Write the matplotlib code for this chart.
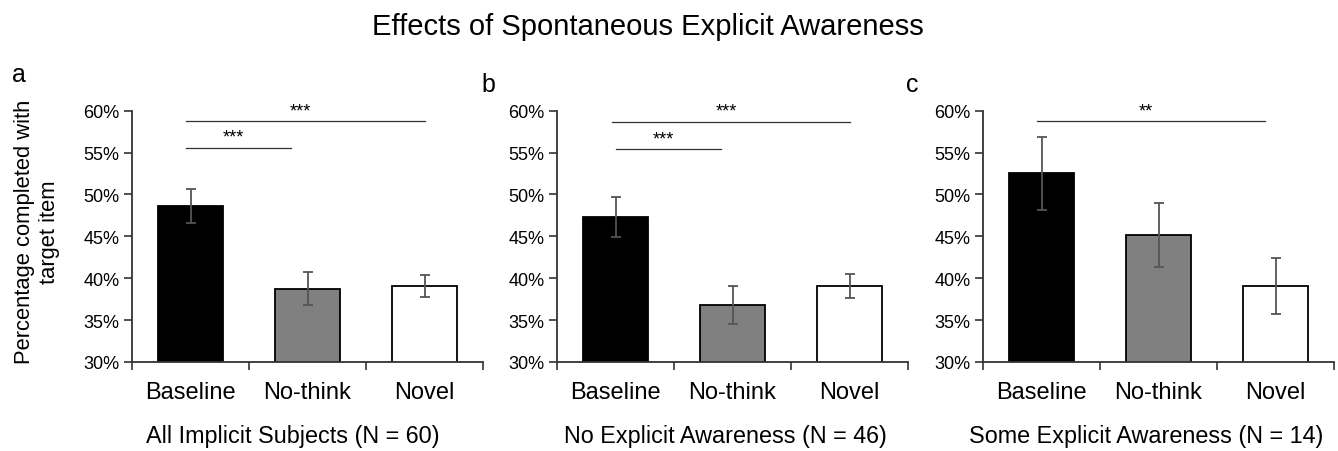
import matplotlib
matplotlib.use("Agg")
import matplotlib.pyplot as plt
from matplotlib.ticker import FuncFormatter, FixedLocator

plt.rcParams['font.family'] = ['Liberation Sans', 'DejaVu Sans']

categories = ["Baseline", "No-think", "Novel"]
bar_colors = ["#000000", "#808080", "#ffffff"]

panel_letters = ["a", "b", "c"]
panel_titles = ["All Implicit Subjects (N = 60)",
                "No Explicit Awareness (N = 46)",
                "Some Explicit Awareness (N = 14)"]

means_a = [48.6, 38.75, 39.1]
errs_a = [2.0, 1.95, 1.33]
means_b = [47.3, 36.8, 39.1]
errs_b = [2.35, 2.3, 1.43]
means_c = [52.55, 45.15, 39.1]
errs_c = [4.37, 3.8, 3.35]

# significance brackets: (x_start, x_end, y, label) in category-index units
sig_a = [(-0.04, 0.86, 55.6, "***"), (-0.04, 2.0, 58.8, "***")]
sig_b = [(0.0, 0.90, 55.4, "***"), (-0.03, 2.0, 58.7, "***")]
sig_c = [(-0.04, 1.91, 58.8, "**")]

means = [means_a, means_b, means_c]
errs = [errs_a, errs_b, errs_c]
sigs = [sig_a, sig_b, sig_c]

W, H = 1338, 452
fig = plt.figure(figsize=(W / 100, H / 100), dpi=100)

ax_lefts = [132, 557, 983]
ax_w = 351
ax_top, ax_bot = 111.7, 363
sub_x = [293, 725, 1146]
letter_pos = [(12, 82), (481, 92), (906, 92)]

for i in range(3):
    ax = fig.add_axes([ax_lefts[i] / W, 1 - ax_bot / H, ax_w / W, (ax_bot - ax_top) / H])
    x = list(range(len(categories)))
    ax.bar(x, means[i], width=0.55, color=bar_colors, edgecolor="black",
           linewidth=1.3, bottom=0, zorder=2)
    ax.errorbar(x, means[i], yerr=errs[i], fmt="none", ecolor="#555555",
                elinewidth=1.3, capsize=3.5, capthick=1.3, zorder=3)
    ax.set_ylim(30, 60)
    ax.set_xlim(-0.5, 2.5)
    ax.set_yticks([30, 35, 40, 45, 50, 55, 60])
    ax.yaxis.set_major_formatter(FuncFormatter(lambda v, p: f"{v:.0f}%"))
    ax.xaxis.set_major_locator(FixedLocator([-0.5, 0.5, 1.5, 2.5]))
    ax.xaxis.set_major_formatter(FuncFormatter(lambda v, p: ""))
    ax.xaxis.set_minor_locator(FixedLocator(x))
    ax.set_xticklabels(categories, minor=True)
    ax.tick_params(axis="x", which="major", direction="out", length=6, width=1.2, color="#333333")
    ax.tick_params(axis="x", which="minor", length=0, pad=14, labelsize=17)
    ax.tick_params(axis="y", direction="out", length=6, width=1.2, color="#333333",
                   labelsize=13, pad=3)
    for s in ["top", "right"]:
        ax.spines[s].set_visible(False)
    for s in ["left", "bottom"]:
        ax.spines[s].set_linewidth(1.3)
        ax.spines[s].set_color("#333333")
    for (x0, x1, y, lab) in sigs[i]:
        ax.plot([x0, x1], [y, y], color="#333333", lw=0.9, clip_on=False, zorder=4)
        ax.text((x0 + x1) / 2 - 0.04, y + 0.2, lab, ha="center", va="bottom",
                fontsize=13, clip_on=False)
    fig.text(sub_x[i] / W, 1 - 437 / H, panel_titles[i], ha="center", va="center",
             fontsize=16.8)
    lx, ly = letter_pos[i]
    fig.text(lx / W, 1 - ly / H, panel_letters[i], ha="left", va="baseline", fontsize=18)

fig.text(37 / W, 1 - 232 / H, "Percentage completed with\ntarget item", rotation=90,
         ha="center", va="center", fontsize=15.8, linespacing=1.3)
fig.text(648 / W, 1 - 27 / H, "Effects of Spontaneous Explicit Awareness",
         ha="center", va="center", fontsize=21)

fig.savefig("out.png", dpi=100)
